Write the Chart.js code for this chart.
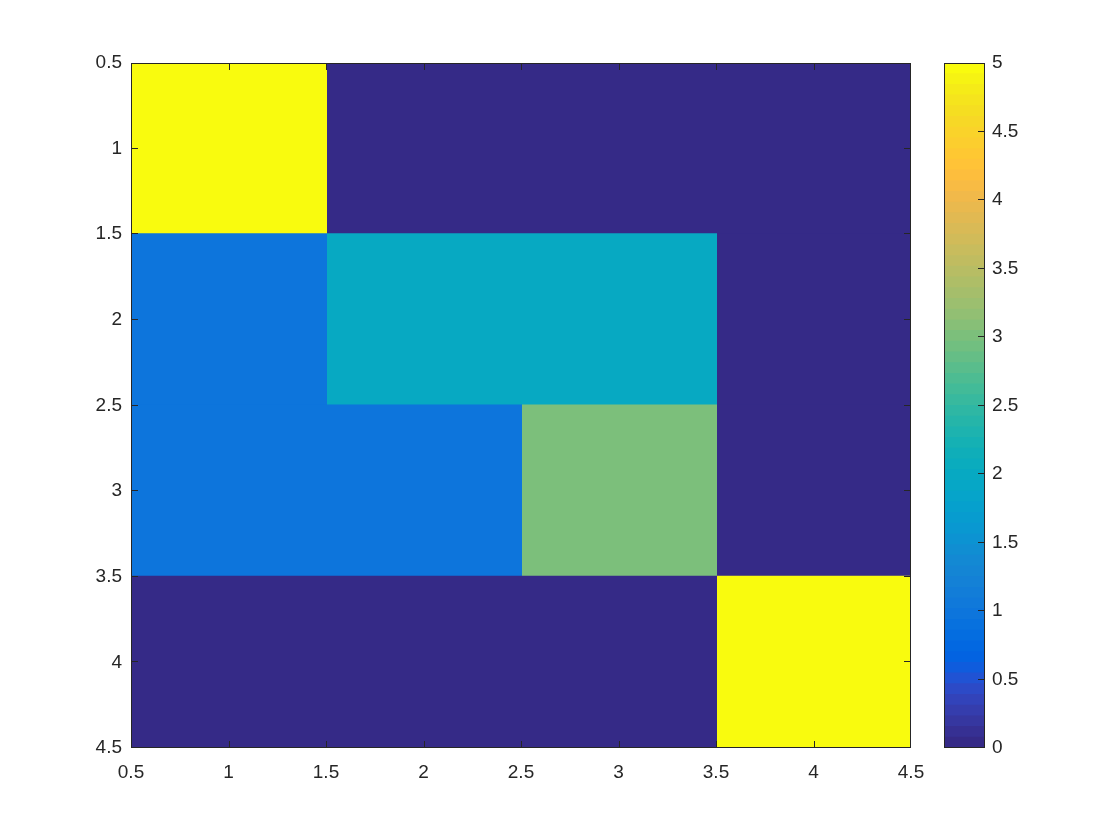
<!DOCTYPE html>
<html>
<head>
<meta charset="utf-8">
<script src="https://cdn.jsdelivr.net/npm/chart.js@4/dist/chart.umd.min.js"></script>
<style>
  html, body { margin: 0; padding: 0; background: #ffffff; }
  #wrap { position: relative; width: 1120px; height: 840px; }
  canvas { position: absolute; left: 0; top: 0; }
</style>
</head>
<body>
<div id="wrap">
  <canvas id="heat" width="1120" height="840"></canvas>
  <canvas id="cbar" width="1120" height="840"></canvas>
</div>
<script>
// ---- data ----
const rowLabels = ['1', '2', '3', '4'];          // matrix rows (top to bottom)
const colCenters = [1, 2, 3, 4];                  // matrix column coordinates
const row1 = [5, 0, 0, 0];
const row2 = [1, 2, 2, 0];
const row3 = [1, 1, 3, 0];
const row4 = [0, 0, 0, 5];
const matrix = [row1, row2, row3, row4];
const colorLimits = [0, 5];
const axisRange = [0.5, 4.5];
const axisStep = 0.5;
const colorbarStep = 0.5;

// MATLAB parula, 64 entries
const parula = [
[0.2081,0.1663,0.5292],[0.2116,0.1898,0.5777],[0.2123,0.2138,0.6270],[0.2081,0.2386,0.6771],
[0.1959,0.2645,0.7279],[0.1707,0.2919,0.7792],[0.1253,0.3242,0.8303],[0.0591,0.3598,0.8683],
[0.0117,0.3875,0.8820],[0.0060,0.4086,0.8828],[0.0165,0.4266,0.8786],[0.0329,0.4430,0.8720],
[0.0498,0.4586,0.8641],[0.0629,0.4737,0.8554],[0.0723,0.4887,0.8467],[0.0779,0.5040,0.8384],
[0.0793,0.5200,0.8312],[0.0749,0.5375,0.8263],[0.0641,0.5570,0.8240],[0.0488,0.5772,0.8228],
[0.0343,0.5966,0.8199],[0.0265,0.6137,0.8135],[0.0239,0.6287,0.8038],[0.0231,0.6418,0.7913],
[0.0228,0.6535,0.7768],[0.0267,0.6642,0.7607],[0.0384,0.6743,0.7436],[0.0590,0.6838,0.7254],
[0.0843,0.6928,0.7062],[0.1133,0.7015,0.6859],[0.1453,0.7098,0.6646],[0.1801,0.7177,0.6424],
[0.2178,0.7250,0.6193],[0.2586,0.7317,0.5954],[0.3022,0.7376,0.5712],[0.3482,0.7424,0.5473],
[0.3953,0.7459,0.5244],[0.4420,0.7481,0.5033],[0.4871,0.7491,0.4840],[0.5300,0.7491,0.4661],
[0.5709,0.7485,0.4494],[0.6099,0.7473,0.4337],[0.6473,0.7456,0.4188],[0.6834,0.7435,0.4044],
[0.7184,0.7411,0.3905],[0.7525,0.7384,0.3768],[0.7858,0.7356,0.3633],[0.8185,0.7327,0.3498],
[0.8507,0.7299,0.3360],[0.8824,0.7274,0.3217],[0.9139,0.7258,0.3063],[0.9450,0.7261,0.2886],
[0.9739,0.7314,0.2666],[0.9938,0.7455,0.2403],[0.9990,0.7653,0.2164],[0.9955,0.7861,0.1967],
[0.9880,0.8066,0.1794],[0.9789,0.8271,0.1633],[0.9697,0.8481,0.1475],[0.9626,0.8705,0.1309],
[0.9589,0.8949,0.1132],[0.9598,0.9218,0.0948],[0.9661,0.9514,0.0755],[0.9763,0.9831,0.0538]
];

// ---- helpers ----
function rgb(c) {
  return 'rgb(' + Math.round(c[0]*255) + ',' + Math.round(c[1]*255) + ',' + Math.round(c[2]*255) + ')';
}
function colorFor(v) {
  const n = parula.length;
  let i = Math.floor((v - colorLimits[0]) / (colorLimits[1] - colorLimits[0]) * n);
  i = Math.max(0, Math.min(n - 1, i));
  return rgb(parula[i]);
}
const fmt = v => String(Math.round(v * 100) / 100);

const TEXT = '#262626';
const FONT = { family: "'Liberation Sans', Arial, Helvetica, sans-serif", size: 19 };
Chart.defaults.font.family = FONT.family;
Chart.defaults.color = TEXT;

// frame + inward ticks plugin (MATLAB style box)
const frameTicks = {
  id: 'frameTicks',
  afterDatasetsDraw(chart, args, opts) {
    const ctx = chart.ctx, a = chart.chartArea, L = opts.len || 7;
    ctx.save();
    ctx.strokeStyle = TEXT;
    ctx.lineWidth = 1;
    ctx.beginPath();
    (opts.h || []).forEach(id => {
      const s = chart.scales[id];
      s.ticks.forEach(t => {
        const raw = s.getPixelForValue(t.value);
        if (raw < a.left + 2 || raw > a.right - 2) return;
        const px = Math.round(raw) + 0.5;
        if (opts.bottom) { ctx.moveTo(px, a.bottom); ctx.lineTo(px, a.bottom - L); }
        if (opts.top) { ctx.moveTo(px, a.top); ctx.lineTo(px, a.top + L); }
      });
    });
    (opts.v || []).forEach(id => {
      const s = chart.scales[id];
      s.ticks.forEach(t => {
        const raw = s.getPixelForValue(t.value);
        if (raw < a.top + 2 || raw > a.bottom - 2) return;
        const py = Math.round(raw) - 0.5;
        if (opts.left) { ctx.moveTo(a.left, py); ctx.lineTo(a.left + L, py); }
        if (opts.right) { ctx.moveTo(a.right, py); ctx.lineTo(a.right - L, py); }
      });
    });
    ctx.stroke();
    ctx.strokeRect(a.left + 0.5, a.top + 0.5, a.right - a.left - 1, a.bottom - a.top - 1);
    ctx.restore();
  }
};

// ---- heatmap ----
const heatDatasets = colCenters.map((c, j) => ({
  data: matrix.map(() => [c - 0.5, c + 0.5]),
  backgroundColor: matrix.map(r => colorFor(r[j])),
  borderWidth: 0,
  inflateAmount: 1,
  clip: 0,
  grouped: false,
  categoryPercentage: 1,
  barPercentage: 1,
  xAxisID: 'x',
  yAxisID: 'yc'
}));

new Chart(document.getElementById('heat'), {
  type: 'bar',
  data: { labels: rowLabels, datasets: heatDatasets },
  plugins: [frameTicks],
  options: {
    indexAxis: 'y',
    responsive: false,
    animation: false,
    events: [],
    layout: { padding: { left: 0, top: 63, right: 209, bottom: 47 } },
    plugins: {
      legend: { display: false },
      tooltip: { enabled: false },
      frameTicks: { len: 7, h: ['x'], v: ['y'], bottom: true, top: true, left: true, right: true }
    },
    scales: {
      x: {
        type: 'linear', position: 'bottom', offset: false,
        min: axisRange[0], max: axisRange[1],
        grid: { display: false, drawTicks: false }, border: { display: false },
        ticks: { stepSize: axisStep, autoSkip: false, maxRotation: 0, padding: 13, font: FONT, color: TEXT, callback: fmt },
        afterFit(s) { s.height = 45; }
      },
      y: {
        type: 'linear', position: 'left', reverse: true, offset: false,
        min: axisRange[0], max: axisRange[1],
        grid: { display: false, drawTicks: false }, border: { display: false },
        ticks: { stepSize: axisStep, autoSkip: false, padding: 9, font: FONT, color: TEXT, callback: fmt },
        afterFit(s) { s.width = 131; }
      },
      yc: {
        type: 'category', display: false, offset: true,
        grid: { offset: true }
      }
    }
  }
});

// ---- colorbar ----
const nBands = parula.length;
const cbarDatasets = parula.map((c, i) => ({
  data: [[colorLimits[0] + (colorLimits[1] - colorLimits[0]) * i / nBands,
          colorLimits[0] + (colorLimits[1] - colorLimits[0]) * (i + 1) / nBands]],
  backgroundColor: rgb(c),
  borderWidth: 0,
  inflateAmount: 0.5,
  clip: 0,
  grouped: false,
  categoryPercentage: 1,
  barPercentage: 1,
  xAxisID: 'xc',
  yAxisID: 'y'
}));

new Chart(document.getElementById('cbar'), {
  type: 'bar',
  data: { labels: [''], datasets: cbarDatasets },
  plugins: [frameTicks],
  options: {
    responsive: false,
    animation: false,
    events: [],
    layout: { padding: { left: 944, top: 63, right: 0, bottom: 92 } },
    plugins: {
      legend: { display: false },
      tooltip: { enabled: false },
      frameTicks: { len: 7, h: [], v: ['y'], right: true }
    },
    scales: {
      xc: { type: 'category', display: false, offset: true, grid: { offset: true } },
      y: {
        type: 'linear', position: 'right', offset: false,
        min: colorLimits[0], max: colorLimits[1],
        grid: { display: false, drawTicks: false }, border: { display: false },
        ticks: { stepSize: colorbarStep, autoSkip: false, padding: 7, font: FONT, color: TEXT, callback: fmt },
        afterFit(s) { s.width = 1120 - 985; }
      }
    }
  }
});
</script>
</body>
</html>
